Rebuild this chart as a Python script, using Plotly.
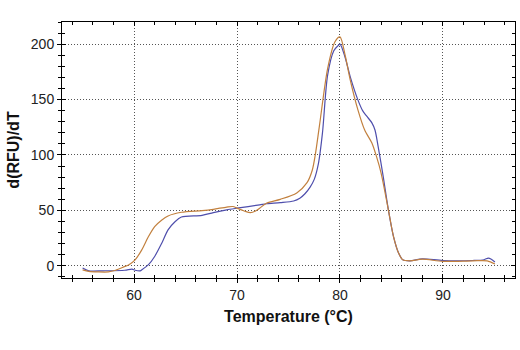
import plotly.graph_objects as go

temp_orange = [55.0, 55.6, 56.5, 57.5, 58.2, 59.0, 59.5, 60.1, 60.75, 61.4, 62.0, 62.7, 63.3, 64.6,
               66.6, 67.7, 69.0, 69.6, 70.0, 70.7, 71.3, 71.8, 72.2, 72.9, 74.2, 75.8, 76.8, 77.3,
               77.6, 78.0, 78.8, 79.5, 80.0, 80.5, 81.0, 81.75, 82.4, 83.1, 83.55, 84.0, 84.7, 85.2,
               85.7, 86.1, 86.8, 88.0, 90.0, 92.9, 94.3, 95.05]
val_orange = [-3.6, -5, -5.5, -5.5, -4, -1, 1, 5.4, 14.4, 26.4, 35.4, 41.4, 45, 48.3,
              49.8, 51, 53, 53.5, 52, 49.5, 48, 49.5, 52, 56.7, 60, 65.8, 75, 86,
              100, 126, 178, 202, 206.6, 190, 167.6, 140.5, 122.5, 110.8, 98.5, 83.5, 50.5, 26.4,
              11.4, 5.4, 4.5, 6.0, 4.0, 4.5, 4.5, 1.6]

temp_blue = [55.0, 55.6, 57.0, 59.1, 59.8, 60.1, 60.6, 60.75, 61.4, 62.0, 62.7, 63.3, 64.0, 64.6,
             66.6, 67.7, 69.0, 70.0, 72.2, 72.9, 74.2, 75.5, 76.1, 76.6, 77.1, 77.5, 77.9, 78.3,
             78.8, 79.4, 79.8, 80.0, 80.5, 81.0, 81.75, 82.2, 82.6, 83.1, 83.4, 83.7, 84.2, 84.7,
             85.2, 85.7, 86.1, 86.8, 88.0, 90.0, 92.9, 94.0, 94.4, 94.7, 95.05]
val_blue = [-2, -4.5, -4.5, -4, -3, -4, -4.5, -3.6, 1, 8.4, 20.6, 32.4, 40, 44,
            45.5, 48, 50.5, 52, 55, 56, 57, 58.5, 61, 65, 71, 78, 92, 120,
            172, 194, 198.5, 200, 188, 170.5, 149.5, 140, 135, 129, 122.5, 108, 80.5, 50.5,
            26.4, 11.4, 5.4, 4.5, 6.3, 4.8, 4.8, 5.5, 7, 6, 3.5]

x_range = [53, 97]
y_range = [-11, 220]

fig = go.Figure()
fig.add_trace(go.Scatter(x=temp_blue, y=val_blue, mode="lines",
                         line=dict(color="#4e4eac", width=1.2, shape="spline", smoothing=0.8),
                         showlegend=False))
fig.add_trace(go.Scatter(x=temp_orange, y=val_orange, mode="lines",
                         line=dict(color="#c2803e", width=1.2, shape="spline", smoothing=0.8),
                         showlegend=False))

font_ticks = dict(family="Liberation Sans Narrow, Arial Narrow, Liberation Sans, Arial", size=14, color="#222")
font_title = dict(family="Liberation Sans Narrow, Arial Narrow, Liberation Sans, Arial", size=16, color="#111")

common_inside = dict(showline=True, linecolor="black", linewidth=1.2, ticks="inside",
                     tickcolor="black", ticklen=4, tickwidth=1.2, mirror="ticks",
                     showticklabels=False, zeroline=False,
                     showgrid=True, gridcolor="#555", gridwidth=1, griddash="1px,2px")

fig.update_layout(
    width=520, height=350,
    margin=dict(l=62, r=5, t=22, b=72),
    paper_bgcolor="white", plot_bgcolor="white",
    xaxis=dict(range=x_range, dtick=10, tick0=0,
               minor=dict(dtick=2, tick0=0, ticks="inside", ticklen=3, tickcolor="black", showgrid=False),
               **common_inside),
    yaxis=dict(range=y_range, dtick=50, tick0=0,
               minor=dict(dtick=10, tick0=0, ticks="inside", ticklen=3, tickcolor="black", showgrid=False),
               **common_inside),
    xaxis2=dict(range=x_range, overlaying="x", side="bottom", dtick=10, tick0=0,
                ticks="outside", ticklen=4, tickwidth=1.2, tickcolor="black",
                minor=dict(dtick=2, tick0=0, ticks="outside", ticklen=3, tickcolor="black"),
                showgrid=False, zeroline=False, showline=False,
                tickfont=font_ticks,
                title=dict(text="<b>Temperature (°C)</b>", font=font_title, standoff=9)),
    yaxis2=dict(range=y_range, overlaying="y", side="left", dtick=50, tick0=0,
                ticks="outside", ticklen=4, tickwidth=1.2, tickcolor="black",
                minor=dict(dtick=10, tick0=0, ticks="outside", ticklen=3, tickcolor="black"),
                showgrid=False, zeroline=False, showline=False,
                tickfont=font_ticks,
                title=dict(text="<b>d(RFU)/dT</b>", font=font_title, standoff=7)),
)
fig.add_trace(go.Scatter(x=[x_range[0]], y=[y_range[0]], xaxis="x2", yaxis="y2",
                         mode="markers", marker=dict(opacity=0), showlegend=False, hoverinfo="skip"))

fig.write_html("out.html")
